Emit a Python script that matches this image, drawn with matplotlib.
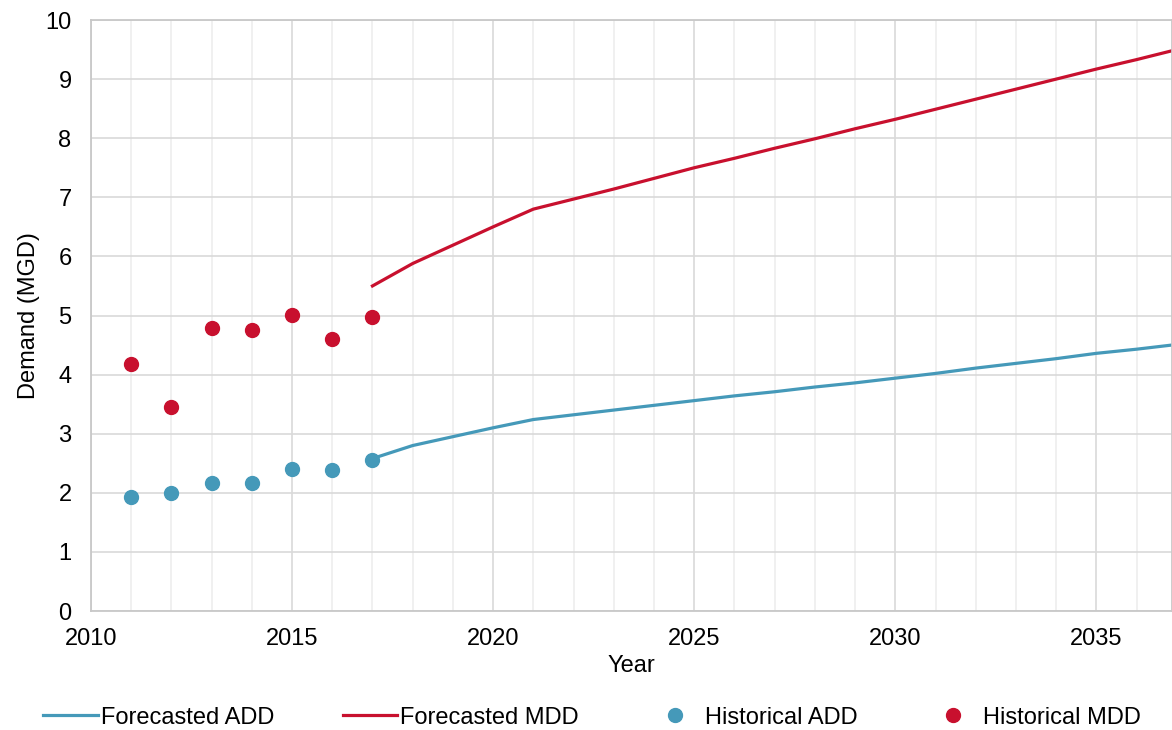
import matplotlib.pyplot as plt
from matplotlib.ticker import MultipleLocator

plt.rcParams['font.family'] = ['Liberation Sans', 'DejaVu Sans']

# Historical data
hist_years = [2011, 2012, 2013, 2014, 2015, 2016, 2017]
hist_add = [1.93, 2.00, 2.16, 2.16, 2.41, 2.39, 2.56]
hist_mdd = [4.18, 3.46, 4.79, 4.75, 5.01, 4.60, 4.97]

# Forecast data
fc_years = list(range(2017, 2038))
fc_add = [2.58, 2.80, 2.95, 3.10, 3.24, 3.32, 3.40, 3.48, 3.56, 3.64, 3.71,
          3.79, 3.86, 3.94, 4.02, 4.11, 4.19, 4.27, 4.36, 4.43, 4.51]
fc_mdd = [5.50, 5.88, 6.19, 6.50, 6.80, 6.97, 7.14, 7.32, 7.50, 7.66, 7.83,
          7.99, 8.16, 8.32, 8.49, 8.66, 8.83, 9.00, 9.17, 9.33, 9.50]

blue = '#4599b9'
red = '#c8102e'

fig = plt.figure(figsize=(11.72, 7.3), dpi=100)
ax = fig.add_axes([0.0776, 0.163, 0.9224, 0.8096])

ax.plot(fc_years, fc_add, color=blue, linewidth=2.3, label='Forecasted ADD')
ax.plot(fc_years, fc_mdd, color=red, linewidth=2.3, label='Forecasted MDD')
ax.plot(hist_years, hist_add, 'o', color=blue, markersize=10, label='Historical ADD')
ax.plot(hist_years, hist_mdd, 'o', color=red, markersize=10, label='Historical MDD')

ax.set_xlim(2010, 2036.88)
ax.set_ylim(0, 10)
ax.xaxis.set_major_locator(MultipleLocator(5))
ax.xaxis.set_minor_locator(MultipleLocator(1))
ax.yaxis.set_major_locator(MultipleLocator(1))

ax.grid(which='major', color='#d9d9d9', linewidth=1.2)
ax.grid(which='minor', axis='x', color='#eeeeee', linewidth=1.2)
ax.set_axisbelow(True)

for s in ax.spines.values():
    s.set_color('#c8c8c8')
    s.set_linewidth(1.3)

ax.tick_params(which='both', length=0, labelsize=17)
ax.tick_params(axis='y', pad=14)
ax.tick_params(axis='x', pad=12)

ax.set_xlabel('Year', fontsize=17, labelpad=4)
ax.set_ylabel('Demand (MGD)', fontsize=17, labelpad=4)

fig.legend(loc='center left', bbox_to_anchor=(0.037, 0.017), ncol=4, frameon=False,
           fontsize=17, handlelength=2.3, handletextpad=0.12, columnspacing=2.92,
           borderaxespad=0, borderpad=0)

fig.savefig('out.png', dpi=100)
